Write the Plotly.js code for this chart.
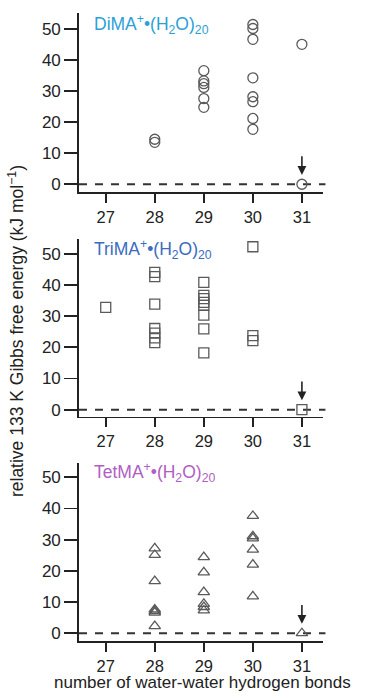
<!DOCTYPE html>
<html>
<head>
<meta charset="utf-8">
<script src="https://cdn.plot.ly/plotly-3.0.1.min.js"></script>
<style>html,body{margin:0;padding:0;background:#fff;}#chart{width:365px;height:693px;}</style>
</head>
<body>
<div id="chart"></div>
<script>
// ---- data ----
const bondTicks = [27, 28, 29, 30, 31];
const energyTicks = [0, 10, 20, 30, 40, 50];

const dimaBonds  = [28, 28, 29, 29, 29, 29, 29, 29, 30, 30, 30, 30, 30, 30, 30, 30, 31, 31];
const dimaEnergy = [14.5, 13.5, 36.6, 33.3, 32.4, 31.2, 27.6, 24.8, 51.5, 50.2, 46.7, 34.3, 28.2, 26.6, 21.2, 17.7, 45.1, 0];

const trimaBonds  = [27, 28, 28, 28, 28, 28, 28, 28, 29, 29, 29, 29, 29, 29, 29, 29, 30, 30, 30, 31];
const trimaEnergy = [32.8, 44.0, 42.6, 33.8, 26.0, 24.5, 23.0, 21.5, 40.8, 36.6, 35.6, 34.4, 33.4, 30.3, 25.9, 18.2, 52.2, 23.7, 22.1, 0];

const tetmaBonds  = [28, 28, 28, 28, 28, 28, 28, 29, 29, 29, 29, 29, 29, 30, 30, 30, 30, 30, 30, 31];
const tetmaEnergy = [27.2, 25.1, 16.7, 7.6, 7.1, 6.6, 2.3, 24.4, 19.5, 13.2, 9.4, 8.4, 7.3, 37.6, 31.1, 30.4, 26.8, 22.0, 11.8, 0];

const panelLabels = ['DiMA<sup>+</sup>•(H<sub>2</sub>O)<sub>20</sub>', 'TriMA<sup>+</sup>•(H<sub>2</sub>O)<sub>20</sub>', 'TetMA<sup>+</sup>•(H<sub>2</sub>O)<sub>20</sub>'];
const panelColors = ['#2c9fd8', '#3a6cbf', '#b060c2'];
const xTitle = 'number of water-water hydrogen bonds';
const yTitle = 'relative 133 K Gibbs free energy (kJ mol<sup>−1</sup>)';

// ---- styling ----
const FONT = 'Liberation Sans, Arial, Helvetica, sans-serif';
const INK = '#222';
const MARK = '#5a5a5a';

function mk(x, y, sym, xa, ya) {
  return {
    type: 'scatter', mode: 'markers', x: x, y: y, xaxis: xa, yaxis: ya,
    marker: {symbol: sym, size: 10, color: 'rgba(255,255,255,0)', line: {color: MARK, width: 1.3}},
    hoverinfo: 'skip', showlegend: false, cliponaxis: false
  };
}

const traces = [
  mk(dimaBonds, dimaEnergy, 'circle', 'x', 'y'),
  mk(trimaBonds, trimaEnergy, 'square', 'x2', 'y2'),
  mk(tetmaBonds, tetmaEnergy, 'triangle-up', 'x3', 'y3')
];

function xax(anchor) {
  return {
    anchor: anchor, range: [26.455, 31.43], tickmode: 'array', tickvals: bondTicks,
    ticks: 'outside', ticklen: 9, tickwidth: 1.8, tickcolor: INK,
    showline: true, linecolor: INK, linewidth: 1.8, showgrid: false, zeroline: false,
    tickfont: {family: FONT, size: 16.5, color: INK}, fixedrange: true
  };
}
function yax(anchor, domain, range) {
  return {
    anchor: anchor, domain: domain, range: range, tickmode: 'array', tickvals: energyTicks,
    ticks: 'outside', ticklen: 13, tickwidth: 1.8, tickcolor: INK,
    showline: true, linecolor: INK, linewidth: 1.8, showgrid: false, zeroline: false,
    tickfont: {family: FONT, size: 17, color: INK}, fixedrange: true
  };
}

const dashes = ['y', 'y2', 'y3'].map((ya, i) => ({
  type: 'line', xref: (i === 0 ? 'x' : 'x' + (i + 1)) + ' domain', yref: ya,
  x0: 0, x1: 1.01, y0: 0, y1: 0, layer: 'below',
  line: {color: '#333', width: 2, dash: '8px,8px'}
}));

const labelY = [0.933, 0.945, 0.948];
const labels = panelLabels.map((t, i) => ({
  xref: (i === 0 ? 'x' : 'x' + (i + 1)) + ' domain', yref: (i === 0 ? 'y' : 'y' + (i + 1)) + ' domain',
  x: 0.053, y: labelY[i], xanchor: 'left', yanchor: 'middle', showarrow: false,
  text: t, font: {family: FONT, size: 17.5, color: panelColors[i]}
}));

const lastBond = bondTicks[bondTicks.length - 1];
const arrows = ['', '2', '3'].map(s => ({
  xref: 'x' + s, yref: 'y' + s, axref: 'x' + s, ayref: 'y' + s,
  x: lastBond, y: 3, ax: lastBond, ay: 9.5, text: '', showarrow: true,
  arrowhead: 2, arrowsize: 1.1, arrowwidth: 1.6, arrowcolor: INK, standoff: 0
}));

const titles = [
  {xref: 'paper', yref: 'paper', x: -0.258, y: 0.4936, xanchor: 'center', yanchor: 'middle',
   textangle: -90, showarrow: false, text: yTitle, font: {family: FONT, size: 17.5, color: INK}},
  {xref: 'paper', yref: 'paper', x: 0.508, y: -0.0828, xanchor: 'center', yanchor: 'bottom',
   showarrow: false, text: xTitle, font: {family: FONT, size: 17, color: INK}, borderpad: 0}
];

const layout = {
  width: 365, height: 693,
  margin: {l: 79, r: 42, t: 13, b: 52, pad: 0},
  paper_bgcolor: '#fff', plot_bgcolor: '#fff',
  showlegend: false,
  xaxis: xax('y'), xaxis2: xax('y2'), xaxis3: xax('y3'),
  yaxis: yax('x', [0.7150, 1], [-2.5, 55.2]),
  yaxis2: yax('x2', [0.3572, 0.6397], [-2.25, 54.6]),
  yaxis3: yax('x3', [0, 0.2830], [-2.5, 54.5]),
  shapes: dashes,
  annotations: labels.concat(arrows, titles)
};

Plotly.newPlot('chart', traces, layout, {staticPlot: true, displayModeBar: false});
</script>
</body>
</html>
